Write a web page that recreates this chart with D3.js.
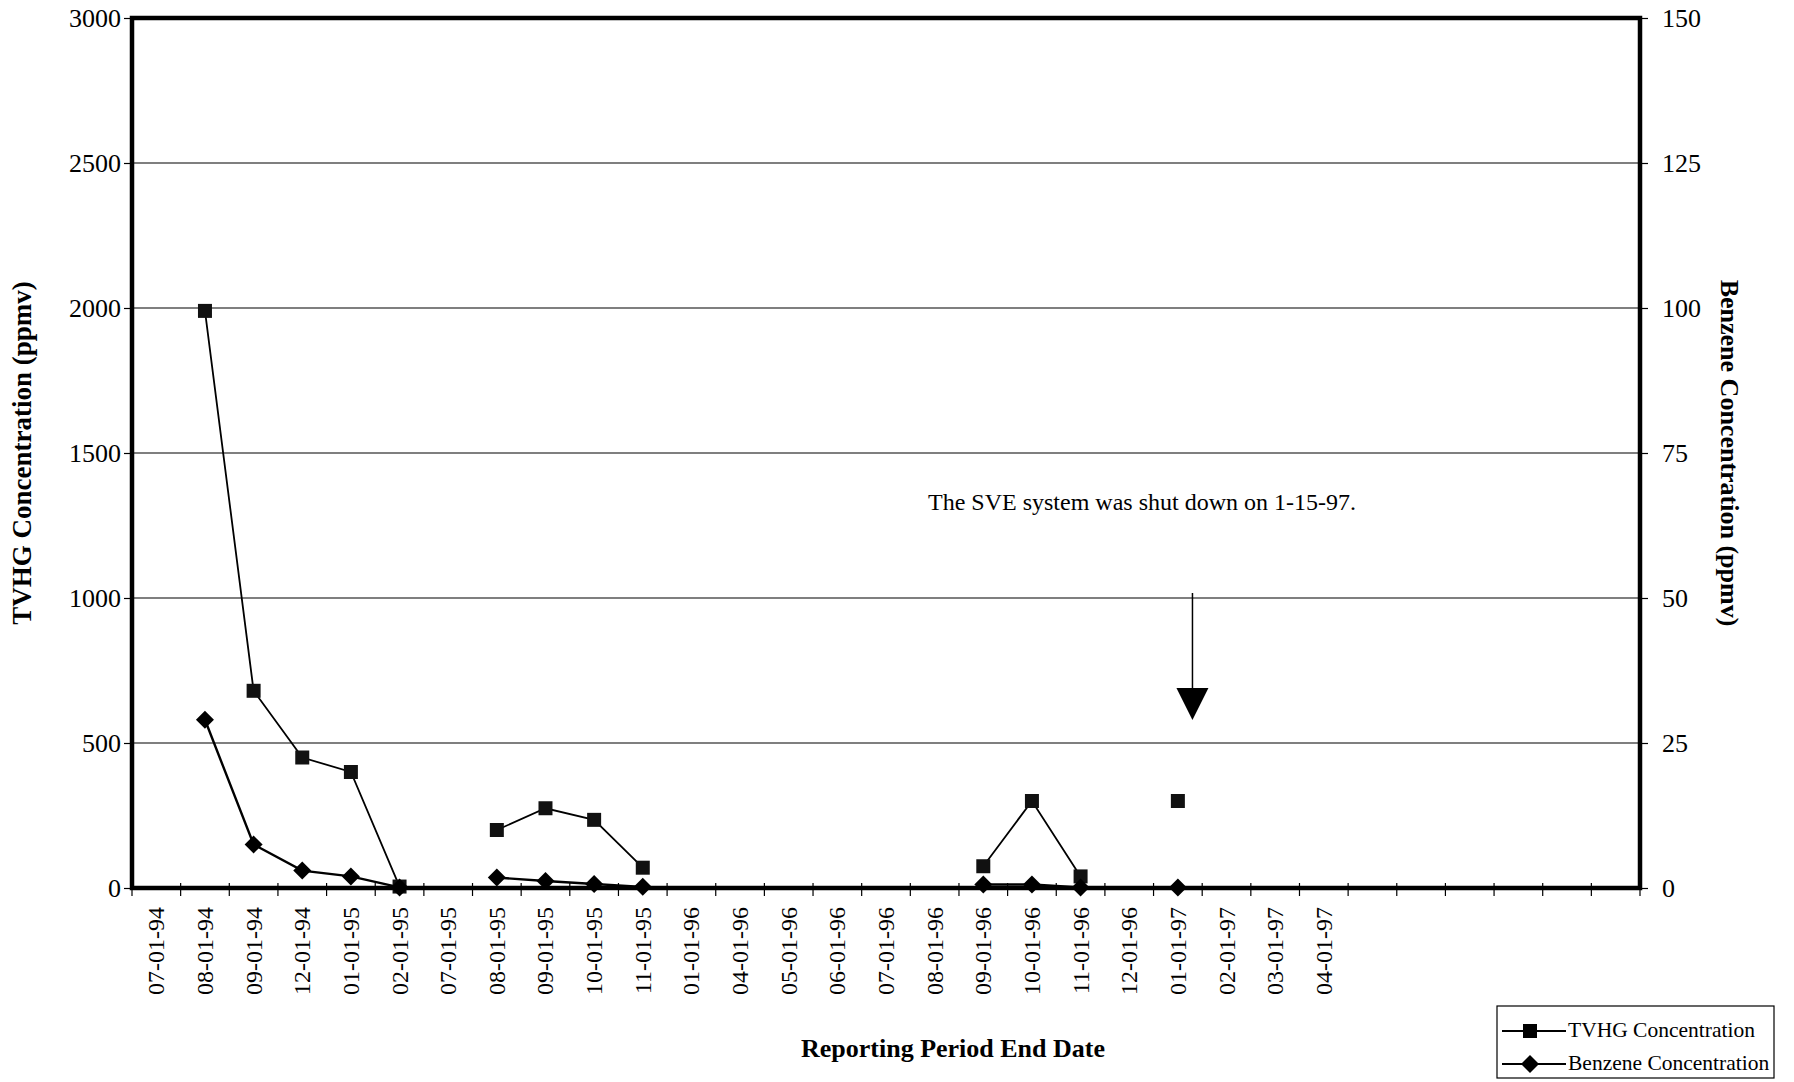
<!DOCTYPE html>
<html><head><meta charset="utf-8">
<script src="https://cdn.jsdelivr.net/npm/d3@7"></script>
<style>body{margin:0;background:#fff}svg{display:block}text{font-family:"Liberation Serif","Times New Roman",serif;fill:#000}</style>
</head><body><svg id="c" width="1794" height="1082"></svg>
<script>
const categories = ["07-01-94","08-01-94","09-01-94","12-01-94","01-01-95","02-01-95","07-01-95","08-01-95","09-01-95","10-01-95","11-01-95","01-01-96","04-01-96","05-01-96","06-01-96","07-01-96","08-01-96","09-01-96","10-01-96","11-01-96","12-01-96","01-01-97","02-01-97","03-01-97","04-01-97","","","","","",""];
const tvhg =    [null,1990,680,450,400,5,null,200,275,235,70,null,null,null,null,null,null,75,300,40,null,300,null,null,null,null,null,null,null,null,null];
const benzene = [null,29.0,7.5,3.0,2.0,0.1,null,1.8,1.2,0.7,0.2,null,null,null,null,null,null,0.6,0.6,0.1,null,0.1,null,null,null,null,null,null,null,null,null];
const leftTicks = [0,500,1000,1500,2000,2500,3000];
const rightTicks = [0,25,50,75,100,125,150];
const annotationText = "The SVE system was shut down on 1-15-97.";

const svg = d3.select("#c");
const L = 132, R = 1640, T = 18, B = 888;
const idx = categories.map((d,i)=>i);
const x = d3.scaleBand().domain(idx).range([L,R]).padding(0);
const y = d3.scaleLinear().domain([0,3000]).range([B,T]);
const y2 = d3.scaleLinear().domain([0,150]).range([B,T]);
const cx = i => x(i) + x.bandwidth()/2;

// gridlines
svg.append("g").selectAll("line").data(leftTicks.slice(1,-1)).join("line")
  .attr("x1",L).attr("x2",R).attr("y1",d=>y(d)).attr("y2",d=>y(d))
  .attr("stroke","#000").attr("stroke-width",1.2);

// left axis
const gl = svg.append("g").attr("transform",`translate(${L},0)`)
  .call(d3.axisLeft(y).tickValues(leftTicks).tickFormat(d3.format("d")).tickSize(8).tickPadding(3));
gl.select(".domain").remove();
gl.selectAll("text").style("font-size","26px");
gl.selectAll("line").attr("stroke-width",1.2);

// right axis
const gr = svg.append("g").attr("transform",`translate(${R},0)`)
  .call(d3.axisRight(y2).tickValues(rightTicks).tickFormat(d3.format("d")).tickSize(8).tickPadding(14));
gr.select(".domain").remove();
gr.selectAll("text").style("font-size","26px");
gr.selectAll("line").attr("stroke-width",1.2);

// bottom axis ticks at boundaries
const gb = svg.append("g").attr("transform",`translate(0,${B})`);
gb.selectAll("line").data(d3.range(categories.length+1)).join("line")
  .attr("x1",i=>L+i*x.bandwidth()).attr("x2",i=>L+i*x.bandwidth())
  .attr("y1",-5).attr("y2",8).attr("stroke","#000").attr("stroke-width",1.2);
gb.selectAll("text").data(idx.filter(i=>categories[i]!=="")).join("text")
  .attr("transform",i=>`translate(${cx(i)+8},${19}) rotate(-90)`)
  .attr("text-anchor","end").style("font-size","24px").text(i=>categories[i]);

// frame
svg.append("rect").attr("x",L).attr("y",T).attr("width",R-L).attr("height",B-T)
  .attr("fill","none").attr("stroke","#000").attr("stroke-width",4.5);

// lines
const lineT = d3.line().defined(i=>tvhg[i]!=null).x(cx).y(i=>y(tvhg[i]));
const lineB = d3.line().defined(i=>benzene[i]!=null).x(cx).y(i=>y2(benzene[i]));
svg.append("path").attr("d",lineT(idx)).attr("fill","none").attr("stroke","#000").attr("stroke-width",1.8);
svg.append("path").attr("d",lineB(idx)).attr("fill","none").attr("stroke","#000").attr("stroke-width",2.4);

const sq = d3.symbol().type(d3.symbolSquare).size(196)();
const dm = "M0,-9L9,0L0,9L-9,0Z";
svg.append("g").selectAll("path").data(idx.filter(i=>tvhg[i]!=null)).join("path")
  .attr("d",sq).attr("transform",i=>`translate(${cx(i)},${y(tvhg[i])})`).attr("fill","#111");
svg.append("g").selectAll("path").data(idx.filter(i=>benzene[i]!=null)).join("path")
  .attr("d",dm).attr("transform",i=>`translate(${cx(i)},${y2(benzene[i])})`).attr("fill","#000");

// axis titles
svg.append("text").attr("transform",`translate(31,${(T+B)/2}) rotate(-90)`)
  .attr("text-anchor","middle").style("font-size","27px").style("font-weight","bold")
  .text("TVHG Concentration (ppmv)");
svg.append("text").attr("transform",`translate(1721,${(T+B)/2}) rotate(90)`)
  .attr("text-anchor","middle").style("font-size","26px").style("font-weight","bold")
  .text("Benzene Concentration (ppmv)");
svg.append("text").attr("x",953).attr("y",1057).attr("text-anchor","middle")
  .style("font-size","26px").style("font-weight","bold").text("Reporting Period End Date");

// annotation
const ax = cx(21) + x.bandwidth()*0.3;
svg.append("text").attr("x",1142).attr("y",510).attr("text-anchor","middle")
  .style("font-size","24px").text(annotationText);
svg.append("line").attr("x1",ax).attr("x2",ax).attr("y1",593).attr("y2",690)
  .attr("stroke","#000").attr("stroke-width",1.5);
svg.append("path").attr("d",`M${ax-16},688 L${ax+16},688 L${ax},720 Z`).attr("fill","#000");

// legend
const lg = svg.append("g");
lg.append("rect").attr("x",1497).attr("y",1006).attr("width",277).attr("height",72)
  .attr("fill","#fff").attr("stroke","#000").attr("stroke-width",1.2);
const items = [{name:"TVHG Concentration",sym:sq,yy:1031},{name:"Benzene Concentration",sym:dm,yy:1064}];
items.forEach(it=>{
  lg.append("line").attr("x1",1502).attr("x2",1566).attr("y1",it.yy).attr("y2",it.yy).attr("stroke","#000").attr("stroke-width",1.8);
  lg.append("path").attr("d",it.sym).attr("transform",`translate(1530,${it.yy})`).attr("fill","#000");
  lg.append("text").attr("x",1568).attr("y",it.yy+6).style("font-size","21.5px").text(it.name);
});
</script></body></html>
